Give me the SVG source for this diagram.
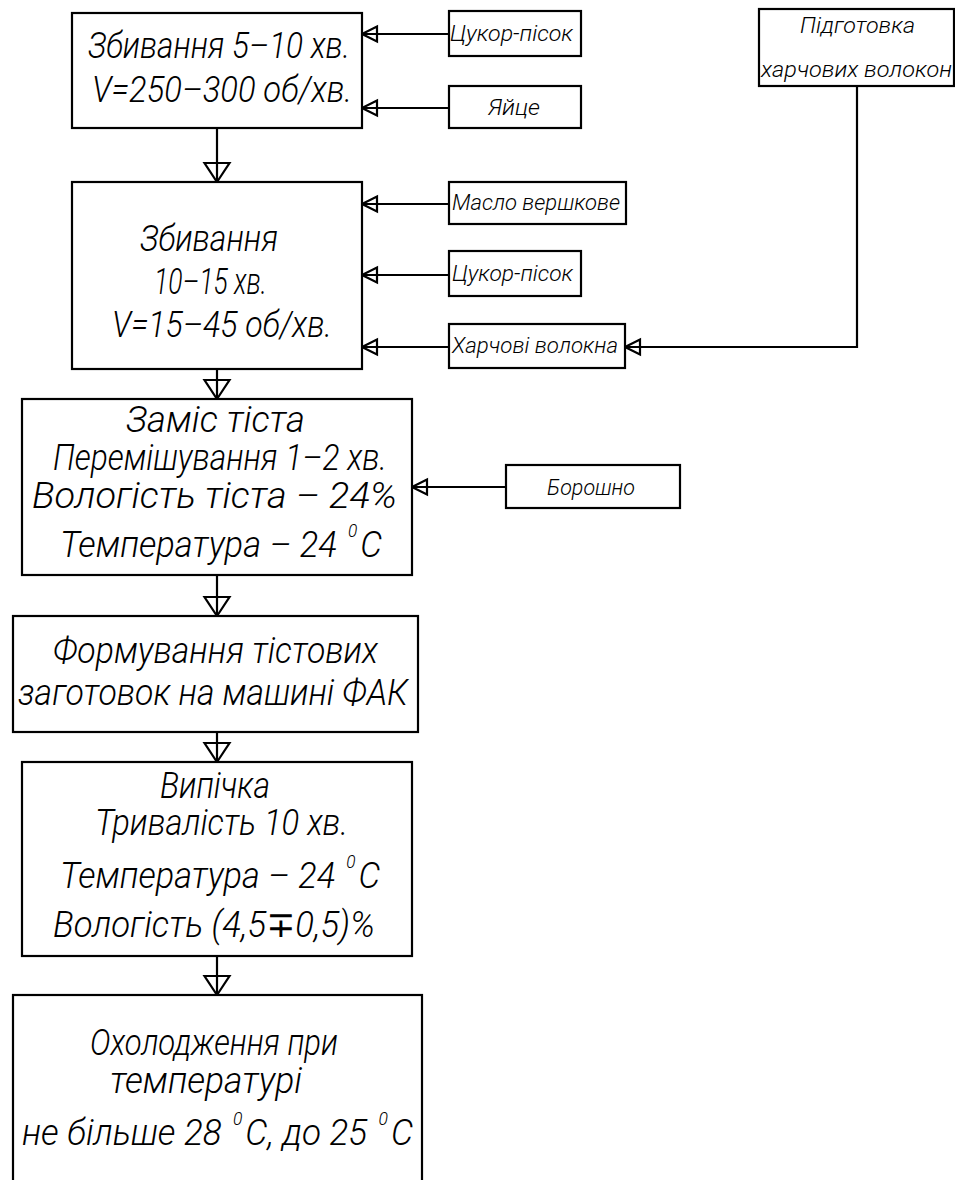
<svg xmlns="http://www.w3.org/2000/svg" width="955" height="1180" viewBox="0 0 955 1180">
<style>
  .box { fill: #fff; stroke: #000; stroke-width: 2.2; }
  .ln { fill: none; stroke: #000; stroke-width: 2.2; }
  .t { font-family: Roboto, "Liberation Sans", "DejaVu Sans", sans-serif; font-style: italic; font-weight: 300; font-size: 36px; fill: #000; }
  .s { font-family: Roboto, "Liberation Sans", "DejaVu Sans", sans-serif; font-style: italic; font-weight: 300; font-size: 22px; fill: #000; }
  .sup { font-size: 18px; }
</style>
<defs>
  <marker id="ah" markerUnits="userSpaceOnUse" markerWidth="20" markerHeight="20" refX="0" refY="0" orient="auto" overflow="visible">
    <path d="M0,0 L-15,-7.5 L-15,7.5 Z" fill="none" stroke="#000" stroke-width="2.2" stroke-linejoin="miter"/>
  </marker>
  <marker id="av" markerUnits="userSpaceOnUse" markerWidth="30" markerHeight="30" refX="0" refY="0" orient="auto" overflow="visible">
    <path d="M0,0 L-19,-12.5 L-19,12.5 Z" fill="none" stroke="#000" stroke-width="2.2" stroke-linejoin="miter"/>
  </marker>
</defs>
<rect width="955" height="1180" fill="#fff"/>

<g id="connectors">
  <line class="ln" x1="449" y1="34" x2="362" y2="34" marker-end="url(#ah)"/>
  <line class="ln" x1="449" y1="108" x2="362" y2="108" marker-end="url(#ah)"/>
  <line class="ln" x1="449" y1="204" x2="362" y2="204" marker-end="url(#ah)"/>
  <line class="ln" x1="449" y1="275" x2="362" y2="275" marker-end="url(#ah)"/>
  <line class="ln" x1="449" y1="347" x2="362" y2="347" marker-end="url(#ah)"/>
  <polyline class="ln" points="857,86 857,347 625,347" marker-end="url(#ah)"/>
  <line class="ln" x1="506" y1="487" x2="412" y2="487" marker-end="url(#ah)"/>
  <line class="ln" x1="217" y1="128" x2="217" y2="182" marker-end="url(#av)"/>
  <line class="ln" x1="217" y1="369" x2="217" y2="399" marker-end="url(#av)"/>
  <line class="ln" x1="217" y1="575" x2="217" y2="616" marker-end="url(#av)"/>
  <line class="ln" x1="217" y1="732" x2="217" y2="762" marker-end="url(#av)"/>
  <line class="ln" x1="217" y1="956" x2="217" y2="995" marker-end="url(#av)"/>
</g>

<g id="step1">
  <rect class="box" x="72" y="13" width="290" height="115"/>
  <text class="t" x="88" y="58" textLength="262" lengthAdjust="spacingAndGlyphs">Збивання 5–10 хв.</text>
  <text class="t" x="92" y="102" textLength="260" lengthAdjust="spacingAndGlyphs">V=250–300 об/хв.</text>
</g>

<g id="step2">
  <rect class="box" x="72" y="182" width="290" height="187"/>
  <text class="t" x="140" y="251" textLength="138" lengthAdjust="spacingAndGlyphs">Збивання</text>
  <text class="t" x="154" y="294" textLength="113" lengthAdjust="spacingAndGlyphs">10–15 хв.</text>
  <text class="t" x="112" y="337" textLength="220" lengthAdjust="spacingAndGlyphs">V=15–45 об/хв.</text>
</g>

<g id="step3">
  <rect class="box" x="22" y="399" width="390" height="176"/>
  <text class="t" x="126" y="432" textLength="179" lengthAdjust="spacingAndGlyphs">Заміс тіста</text>
  <text class="t" x="53" y="470" textLength="334" lengthAdjust="spacingAndGlyphs">Перемішування 1–2 хв.</text>
  <text class="t" x="32" y="508" textLength="365" lengthAdjust="spacingAndGlyphs">Вологість тіста – 24%</text>
  <text class="t" x="60" y="557" textLength="322" lengthAdjust="spacingAndGlyphs">Температура – 24 <tspan class="sup" dx="3" dy="-20">0</tspan><tspan dx="3" dy="20">C</tspan></text>
</g>

<g id="step4">
  <rect class="box" x="13" y="616" width="405" height="116"/>
  <text class="t" x="53" y="663" textLength="325" lengthAdjust="spacingAndGlyphs">Формування тістових</text>
  <text class="t" x="18" y="705" textLength="390" lengthAdjust="spacingAndGlyphs">заготовок на машині ФАК</text>
</g>

<g id="step5">
  <rect class="box" x="22" y="762" width="390" height="194"/>
  <text class="t" x="160" y="798" textLength="110" lengthAdjust="spacingAndGlyphs">Випічка</text>
  <text class="t" x="95" y="835" textLength="253" lengthAdjust="spacingAndGlyphs">Тривалість 10 хв.</text>
  <text class="t" x="60" y="888" textLength="320" lengthAdjust="spacingAndGlyphs">Температура – 24 <tspan class="sup" dx="3" dy="-20">0</tspan><tspan dx="3" dy="20">C</tspan></text>
  <text class="t" x="53" y="937" textLength="322" lengthAdjust="spacingAndGlyphs">Вологість (4,5∓0,5)%</text>
</g>

<g id="step6">
  <rect class="box" x="13" y="995" width="409" height="210"/>
  <text class="t" x="90" y="1055" textLength="248" lengthAdjust="spacingAndGlyphs">Охолодження при</text>
  <text class="t" x="110" y="1093" textLength="192" lengthAdjust="spacingAndGlyphs">температурі</text>
  <text class="t" x="22" y="1145" textLength="391" lengthAdjust="spacingAndGlyphs">не більше 28 <tspan class="sup" dx="3" dy="-20">0</tspan><tspan dx="3" dy="20">C, до 25 </tspan><tspan class="sup" dx="3" dy="-20">0</tspan><tspan dx="3" dy="20">C</tspan></text>
</g>

<g id="in-sugar1">
  <rect class="box" x="449" y="11" width="132" height="45"/>
  <text class="s" x="450" y="41" textLength="123" lengthAdjust="spacingAndGlyphs">Цукор-пісок</text>
</g>
<g id="in-eggs">
  <rect class="box" x="449" y="86" width="132" height="42"/>
  <text class="s" x="488" y="115" textLength="52" lengthAdjust="spacingAndGlyphs">Яйце</text>
</g>
<g id="in-butter">
  <rect class="box" x="449" y="182" width="177" height="42"/>
  <text class="s" x="452" y="210" textLength="168" lengthAdjust="spacingAndGlyphs">Масло вершкове</text>
</g>
<g id="in-sugar2">
  <rect class="box" x="449" y="251" width="132" height="45"/>
  <text class="s" x="452" y="281" textLength="121" lengthAdjust="spacingAndGlyphs">Цукор-пісок</text>
</g>
<g id="in-fiber">
  <rect class="box" x="449" y="324" width="176" height="44"/>
  <text class="s" x="452" y="353" textLength="166" lengthAdjust="spacingAndGlyphs">Харчові волокна</text>
</g>
<g id="in-flour">
  <rect class="box" x="506" y="465" width="174" height="43"/>
  <text class="s" x="547" y="495" textLength="88" lengthAdjust="spacingAndGlyphs">Борошно</text>
</g>
<g id="prep-fiber">
  <rect class="box" x="759" y="9" width="195" height="77"/>
  <text class="s" x="800" y="33" textLength="115" lengthAdjust="spacingAndGlyphs" font-size="20">Підготовка</text>
  <text class="s" x="761" y="77" textLength="191" lengthAdjust="spacingAndGlyphs" font-size="20">харчових волокон</text>
</g>
</svg>
